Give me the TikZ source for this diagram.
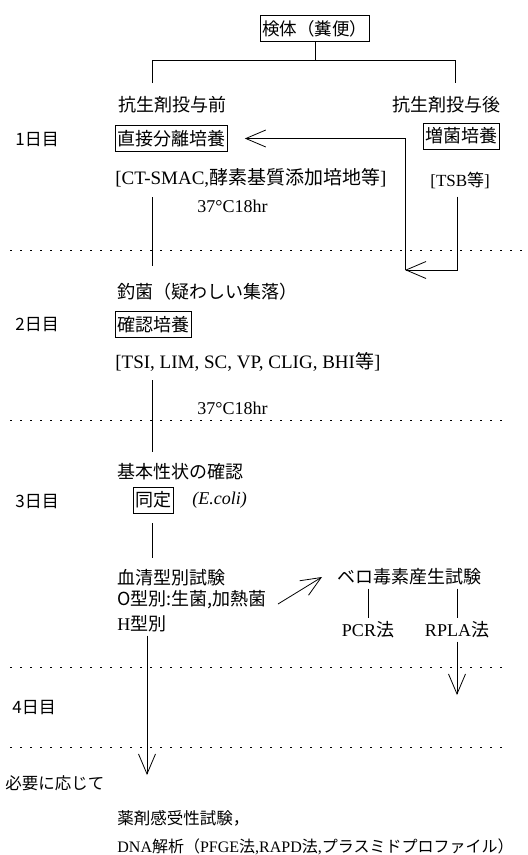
\documentclass[tikz,border=0pt]{standalone}
\usepackage{fontspec}
\setmainfont{Liberation Serif}
\newfontfamily\jpfont{Noto Sans CJK JP}
\usetikzlibrary{arrows.meta}
\newcommand{\jp}[1]{{\jpfont #1}}
\newcommand{\la}[1]{{\rmfamily #1}}

\begin{document}
\begin{tikzpicture}[x=1pt,y=-1pt,line width=0.8pt,
		>={Straight Barb[length=20pt,width=17pt]},
		txt/.style={anchor=west,inner sep=0pt,font=\jpfont\fontsize{18}{20}\selectfont},
		lat/.style={anchor=west,inner sep=0pt,font=\fontsize{19}{21}\selectfont},
		boxed/.style={draw,anchor=west,inner xsep=2pt,inner ysep=0pt,minimum height=26pt,font=\jpfont\fontsize{18}{20}\selectfont},
		day/.style={anchor=west,inner sep=0pt,font=\jpfont\fontsize{17}{19}\selectfont},
		sep/.style={dash pattern=on 2pt off 8pt}]
		  \useasboundingbox (0,0) rectangle (528,855);
		  \node[boxed,font=\jpfont\fontsize{17.5}{20}\selectfont] (sample) at (260,28.5) {検体（糞便）};
		  \node[txt] (before) at (118,105) {抗生剤投与前};
		  \node[txt] (after) at (392,105) {抗生剤投与後};
		  \coordinate (lb) at (152,83);
		  \coordinate (rb) at (455,83);
                  \draw (sample.south) -- ++(0,18) coordinate (fork);
                  \draw (lb) |- (fork) -| (rb);

		  \node[day] (d1) at (15,140) {1日目};
		  \node[boxed] (direct) at (115,138.5) {直接分離培養};
		  \node[boxed] (enrich) at (423,136) {増菌培養};
		  \node[lat] (medium) at (115,178) {[CT-SMAC,\jp{酵素基質添加培地等}]};
		  \node[lat,font=\fontsize{17}{19}\selectfont] (tsb) at (430,180) {[TSB\jp{等}]};
		  \coordinate (c1) at (152,197);
		  \coordinate (c2) at (152,266);
		  \coordinate (t2) at (457,270);
		  \coordinate (back) at (405,270);
                  \draw (c1) -- (c2);
                  \draw[->] (tsb.south -| t2) ++(0,8) -- (t2) -- (back);
                  \draw[->] (back) |- ([xshift=17pt]direct.east);
		  \node[lat,font=\fontsize{18}{20}\selectfont] (inc1) at (197,206) {37°C18hr};
                  \draw[sep] (10,250) -- (528,250);

		  \node[txt] (pick) at (117,292) {釣菌（疑わしい集落）};
		  \node[day] (d2) at (15,325) {2日目};
		  \node[boxed] (confirm) at (115,324.5) {確認培養};
		  \node[lat] (media2) at (115,362) {[TSI, LIM, SC, VP, CLIG, BHI\jp{等}]};
		  \coordinate (c3) at (152,380);
		  \coordinate (c4) at (152,452);
                  \draw (c3) -- (c4);
		  \node[lat,font=\fontsize{18}{20}\selectfont] (inc2) at (197,408) {37°C18hr};
                  \draw[sep] (10,420) -- (508,420);

		  \node[txt] (basic) at (117,472) {基本性状の確認};
		  \node[day] (d3) at (15,502) {3日目};
		  \node[boxed] (ident) at (133,500) {同定};
		  \node[lat,font=\itshape\fontsize{18}{20}\selectfont] (ecoli) at (192,500) {(E.coli)};
		  \coordinate (c5) at (152,523);
		  \coordinate (c6) at (152,558);
                  \draw (c5) -- (c6);
		  \node[txt] (sero) at (117,578) {血清型別試験};
		  \node[txt] (otype) at (117,600) {O型別:生菌,加熱菌};
		  \node[txt] (htype) at (117,624) {\la{H}型別};
		  \node[txt] (vero) at (337,577) {ベロ毒素産生試験};
		  \coordinate (a1) at (278,604);
		  \coordinate (a2) at (322,577);
                  \draw[->] (a1) -- (a2);
		  \node[lat,anchor=center,font=\fontsize{18}{20}\selectfont] (pcr) at (368,630) {PCR\jp{法}};
		  \node[lat,anchor=center,font=\fontsize{18}{20}\selectfont] (rpla) at (457,630) {RPLA\jp{法}};
                  \draw[shorten <=3pt,shorten >=3pt] (pcr |- vero.south) -- (pcr.north);
                  \draw[shorten <=3pt,shorten >=3pt] (rpla |- vero.south) -- (rpla.north);
		  \coordinate (rend) at (457,695);
                  \draw[->,shorten <=3pt] (rpla) -- (rend);
                  \draw[sep] (10,667) -- (508,667);

		  \node[day] (d4) at (12,708) {4日目};
                  \draw[sep] (10,747) -- (508,747);
		  \coordinate (hend) at (147,775);
                  \draw[->,shorten <=3pt] (htype.south -| hend) -- (hend);
		  \node[txt,font=\jpfont\fontsize{16.5}{19}\selectfont] (asneed) at (5,783) {必要に応じて};
		  \node[txt,font=\jpfont\fontsize{16.5}{19}\selectfont] (drug) at (117,818) {薬剤感受性試験，};
		  \node[txt,font=\jpfont\fontsize{16}{19}\selectfont] (dna) at (117,847) {\la{DNA}解析（\la{PFGE}法\la{,RAPD}法\la{,}プラスミドプロファイル）};
		\end{tikzpicture}
\end{document}
